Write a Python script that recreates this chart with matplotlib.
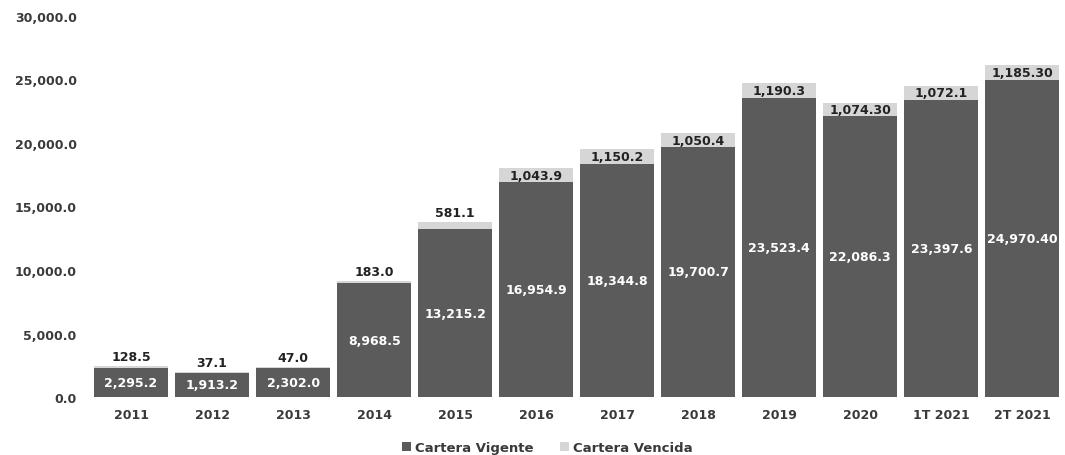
import matplotlib
matplotlib.use("Agg")
import matplotlib.pyplot as plt
import numpy as np

periodos = ["2011", "2012", "2013", "2014", "2015", "2016", "2017", "2018",
            "2019", "2020", "1T 2021", "2T 2021"]
vigente = [2295.2, 1913.2, 2302.0, 8968.5, 13215.2, 16954.9, 18344.8, 19700.7,
           23523.4, 22086.3, 23397.6, 24970.40]
vencida = [128.5, 37.1, 47.0, 183.0, 581.1, 1043.9, 1150.2, 1050.4,
           1190.3, 1074.30, 1072.1, 1185.30]
etiq_vigente = ["2,295.2", "1,913.2", "2,302.0", "8,968.5", "13,215.2", "16,954.9",
                "18,344.8", "19,700.7", "23,523.4", "22,086.3", "23,397.6", "24,970.40"]
etiq_vencida = ["128.5", "37.1", "47.0", "183.0", "581.1", "1,043.9", "1,150.2",
                "1,050.4", "1,190.3", "1,074.30", "1,072.1", "1,185.30"]

plt.rcParams['font.family'] = ['DejaVu Sans']

fig = plt.figure(figsize=(10.65, 4.56), dpi=100)
ax = fig.add_axes([0.085, 0.127, 0.913, 0.836])

x = np.arange(len(periodos))
c_vig = "#5b5b5b"
c_ven = "#d6d6d6"
ax.bar(x, vigente, width=0.91, color=c_vig, label="Cartera Vigente")
ax.bar(x, vencida, width=0.91, bottom=vigente, color=c_ven, label="Cartera Vencida")

for i in range(len(x)):
    ax.text(x[i], vigente[i] / 2, etiq_vigente[i], ha="center", va="center",
            color="white", fontsize=9, fontweight="bold")
    top = vigente[i] + vencida[i]
    if vencida[i] < 1000:
        ax.text(x[i], top + 250, etiq_vencida[i], ha="center", va="bottom",
                color="#222222", fontsize=9, fontweight="bold")
    else:
        ax.text(x[i], vigente[i] + vencida[i] / 2, etiq_vencida[i], ha="center",
                va="center", color="#222222", fontsize=9, fontweight="bold")

ax.set_xlim(-0.5, len(x) - 0.5)
ax.set_ylim(0, 30000)
ax.set_yticks(np.arange(0, 30001, 5000))
ax.set_yticklabels([f"{v:,.1f}" for v in np.arange(0, 30001, 5000)])
ax.set_xticks(x)
ax.set_xticklabels(periodos)
ax.tick_params(axis="both", length=0, labelsize=9, labelcolor="#3a3a3a")
ax.tick_params(axis="y", pad=10)
ax.tick_params(axis="x", pad=8)
for lbl in ax.get_xticklabels() + ax.get_yticklabels():
    lbl.set_fontweight("semibold")
for s in ax.spines.values():
    s.set_visible(False)

leg = ax.legend(loc="upper center", bbox_to_anchor=(0.47, -0.085), ncol=2, frameon=False,
                fontsize=9.5, handlelength=0.7, handleheight=0.7, handletextpad=0.3,
                columnspacing=2.0, labelcolor="#3a3a3a")
for t in leg.get_texts():
    t.set_fontweight("semibold")

fig.savefig("out.png", dpi=100)
